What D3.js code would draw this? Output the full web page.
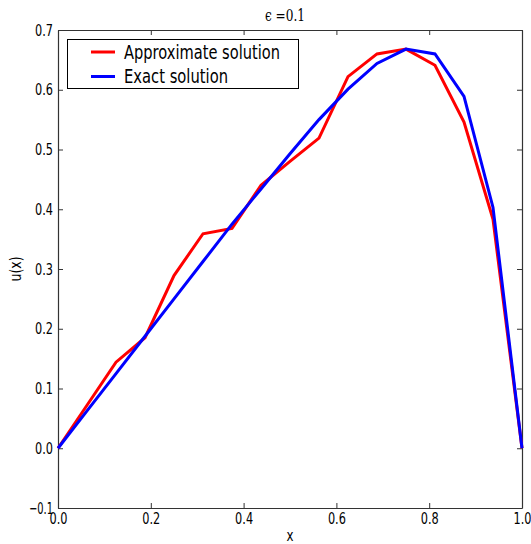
<!DOCTYPE html>
<html>
<head>
<meta charset="utf-8">
<script src="https://cdn.jsdelivr.net/npm/d3@7"></script>
<style>
  body { margin: 0; background: #fff; }
  text { font-family: "DejaVu Sans", sans-serif; fill: #000; }
</style>
</head>
<body>
<div id="chart"></div>
<script>
// values
const xs = [0, 0.0625, 0.125, 0.1875, 0.25, 0.3125, 0.375, 0.4375, 0.5, 0.5625, 0.625, 0.6875, 0.75, 0.8125, 0.875, 0.9375, 1.0];
const approx = [0, 0.072, 0.144, 0.185, 0.289, 0.359, 0.368, 0.44, 0.48, 0.519, 0.622, 0.66, 0.668, 0.641, 0.546, 0.383, 0];
const exact = [0, 0.0625, 0.125, 0.1875, 0.25, 0.3125, 0.375, 0.434, 0.493, 0.55, 0.601, 0.644, 0.668, 0.66, 0.589, 0.403, 0];
const xTicks = [0, 0.2, 0.4, 0.6, 0.8, 1.0];
const yTicks = [-0.1, 0, 0.1, 0.2, 0.3, 0.4, 0.5, 0.6, 0.7];
const seriesNames = ["Approximate solution", "Exact solution"];
const seriesColors = ["#ff0000", "#0000ff"];

const width = 531, height = 544;
const margin = {left: 58, right: 9, top: 30, bottom: 36};

const svg = d3.select("#chart").append("svg")
    .attr("width", width)
    .attr("height", height);

const x = d3.scaleLinear().domain([0, 1]).range([margin.left, width - margin.right]);
const y = d3.scaleLinear().domain([-0.1, 0.7]).range([height - margin.bottom, margin.top]);

const fmt = d3.format(".1f");
const minus = s => s.replace("-", "\u2212");

// the picture's text is squeezed sideways, so squeeze ours too
const squeeze = (sel, perChar) => sel
    .attr("font-size", 16)
    .attr("textLength", function() { return this.textContent.length * perChar; })
    .attr("lengthAdjust", "spacingAndGlyphs");

// axes with inward ticks on all sides
const tickLen = 5;
svg.append("g")
    .attr("transform", `translate(0,${y(-0.1)})`)
    .call(d3.axisBottom(x).tickValues(xTicks).tickFormat(fmt).tickSizeInner(-tickLen).tickSizeOuter(0).tickPadding(5))
    .call(g => squeeze(g.selectAll("text"), 6));
svg.append("g")
    .attr("transform", `translate(0,${y(0.7)})`)
    .call(d3.axisTop(x).tickValues(xTicks).tickFormat("").tickSizeInner(-tickLen).tickSizeOuter(0));
svg.append("g")
    .attr("transform", `translate(${x(0)},0)`)
    .call(d3.axisLeft(y).tickValues(yTicks).tickFormat(d => minus(fmt(d))).tickSizeInner(-tickLen).tickSizeOuter(0).tickPadding(5))
    .call(g => squeeze(g.selectAll("text"), 6));
svg.append("g")
    .attr("transform", `translate(${x(1)},0)`)
    .call(d3.axisRight(y).tickValues(yTicks).tickFormat("").tickSizeInner(-tickLen).tickSizeOuter(0));

svg.selectAll(".domain").attr("stroke", "#333").attr("stroke-width", 1.2);
svg.selectAll(".tick line").attr("stroke", "#333");

// lines
const line = d3.line().x((d, i) => x(xs[i])).y(d => y(d));
[approx, exact].forEach((s, k) => {
    svg.append("path")
        .datum(s)
        .attr("fill", "none")
        .attr("stroke", seriesColors[k])
        .attr("stroke-width", 3)
        .attr("stroke-linejoin", "miter")
        .attr("d", line);
});

// title and axis labels
svg.append("text")
    .attr("x", 285).attr("y", 21)
    .attr("text-anchor", "middle")
    .style("font-family", "'DejaVu Serif', serif")
    .attr("font-size", 16)
    .attr("textLength", 40)
    .attr("lengthAdjust", "spacingAndGlyphs")
    .text("\u03f5 =0.1");

svg.append("text")
    .attr("x", (x(0) + x(1)) / 2).attr("y", 541)
    .attr("text-anchor", "middle")
    .attr("font-size", 16)
    .attr("textLength", 7)
    .attr("lengthAdjust", "spacingAndGlyphs")
    .text("x");

svg.append("text")
    .attr("transform", `translate(21,${(y(-0.1) + y(0.7)) / 2}) rotate(-90)`)
    .attr("text-anchor", "middle")
    .attr("font-size", 15)
    .attr("textLength", 25)
    .attr("lengthAdjust", "spacingAndGlyphs")
    .text("u(x)");

// legend
const legend = svg.append("g");
legend.append("rect")
    .attr("x", 67.5).attr("y", 39.5)
    .attr("width", 231).attr("height", 49)
    .attr("fill", "#fff").attr("stroke", "#000").attr("stroke-width", 1);
seriesNames.forEach((name, k) => {
    const ly = 52 + k * 24.5;
    legend.append("line")
        .attr("x1", 91).attr("x2", 115)
        .attr("y1", ly).attr("y2", ly)
        .attr("stroke", seriesColors[k]).attr("stroke-width", 3);
    legend.append("text")
        .attr("x", 124).attr("y", ly + 6.5)
        .attr("font-size", 19)
        .attr("textLength", k === 0 ? 156 : 104)
        .attr("lengthAdjust", "spacingAndGlyphs")
        .text(name);
});
</script>
</body>
</html>
